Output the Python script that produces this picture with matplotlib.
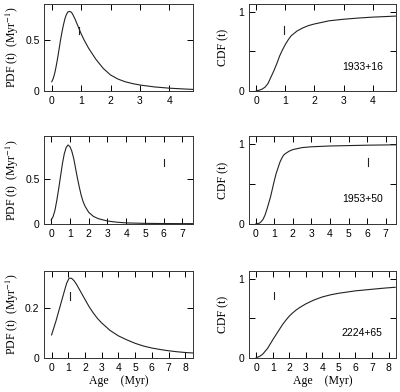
import matplotlib
matplotlib.use("Agg")
import matplotlib.pyplot as plt

# ---- data ----
names = ["1933+16", "1953+50", "2224+65"]

pdf1_t = [0, 0.05, 0.1, 0.15, 0.2, 0.25, 0.3, 0.35, 0.4, 0.45, 0.5, 0.55, 0.6, 0.65, 0.7, 0.8, 0.9,
          1.0, 1.1, 1.25, 1.5, 1.75, 2.0, 2.25, 2.5, 2.75, 3.0, 3.5, 4.0, 4.5, 4.8]
pdf1_v = [0.088, 0.12, 0.17, 0.24, 0.32, 0.41, 0.50, 0.58, 0.65, 0.71, 0.75, 0.775, 0.78, 0.775, 0.76,
          0.70, 0.63, 0.56, 0.50, 0.42, 0.31, 0.22, 0.155, 0.115, 0.088, 0.07, 0.056, 0.037, 0.025,
          0.017, 0.013]
cdf1_t = [0, 0.1, 0.2, 0.3, 0.4, 0.5, 0.6, 0.7, 0.8, 0.9, 1.0, 1.1, 1.2, 1.4, 1.6, 1.8, 2.0, 2.5, 3.0,
          3.5, 4.0, 4.5, 4.78]
cdf1_v = [0, 0.006, 0.02, 0.045, 0.09, 0.17, 0.25, 0.34, 0.44, 0.52, 0.59, 0.65, 0.70, 0.76, 0.80,
          0.83, 0.85, 0.89, 0.91, 0.925, 0.937, 0.945, 0.95]

pdf2_t = [0, 0.1, 0.2, 0.3, 0.4, 0.5, 0.6, 0.7, 0.8, 0.9, 1.0, 1.1, 1.2, 1.3, 1.4, 1.5, 1.6, 1.7, 1.8,
          2.0, 2.25, 2.5, 3.0, 3.5, 4.0, 5.0, 6.0, 7.0, 7.55]
pdf2_v = [0.044, 0.08, 0.15, 0.26, 0.39, 0.53, 0.67, 0.78, 0.85, 0.878, 0.86, 0.81, 0.73, 0.62, 0.51,
          0.41, 0.32, 0.25, 0.20, 0.13, 0.085, 0.06, 0.033, 0.02, 0.012, 0.007, 0.005, 0.004, 0.004]
cdf2_t = [0, 0.2, 0.3, 0.4, 0.5, 0.6, 0.7, 0.8, 0.9, 1.0, 1.1, 1.2, 1.3, 1.4, 1.5, 1.6, 1.8, 2.0, 2.5,
          3.0, 4.0, 5.0, 6.0, 7.0, 7.55]
cdf2_v = [0, 0.01, 0.03, 0.06, 0.11, 0.18, 0.26, 0.34, 0.44, 0.54, 0.63, 0.70, 0.77, 0.82, 0.86,
          0.88, 0.91, 0.93, 0.955, 0.965, 0.975, 0.98, 0.985, 0.988, 0.99]

pdf3_t = [0, 0.25, 0.5, 0.75, 0.9, 1.05, 1.2, 1.35, 1.5, 1.75, 2.0, 2.25, 2.5, 2.75, 3.0, 3.5, 4.0,
          4.5, 5.0, 5.5, 6.0, 6.5, 7.0, 7.5, 8.0, 8.45]
pdf3_v = [0.092, 0.145, 0.205, 0.265, 0.30, 0.321, 0.32, 0.31, 0.295, 0.265, 0.235, 0.205, 0.18,
          0.158, 0.14, 0.11, 0.088, 0.072, 0.058, 0.047, 0.039, 0.033, 0.028, 0.024, 0.021, 0.019]
cdf3_t = [0, 0.2, 0.4, 0.7, 1.0, 1.2, 1.4, 1.6, 1.8, 2.0, 2.2, 2.4, 2.6, 3.0, 3.5, 4.0, 4.5, 5.0,
          5.5, 6.0, 6.5, 7.0, 7.5, 8.0, 8.4]
cdf3_v = [0, 0.015, 0.045, 0.12, 0.225, 0.29, 0.355, 0.42, 0.475, 0.525, 0.565, 0.60, 0.63, 0.68,
          0.73, 0.768, 0.795, 0.815, 0.83, 0.845, 0.855, 0.865, 0.875, 0.884, 0.89]

# small vertical marks (age, low, high)
pdf_mark = [(0.94, 0.56, 0.63), (6.0, 0.64, 0.72), (1.1, 0.233, 0.265)]
cdf_mark = [(0.95, 0.72, 0.83), (6.03, 0.73, 0.83), (1.08, 0.736, 0.834)]

xlims = [(-0.25, 4.8), (-0.36, 7.55), (-0.43, 8.45)]
xticks = [range(0, 5), range(0, 8), range(0, 9)]
pdf_ylim = [0.85, 0.978, 0.351]
pdf_yticks = [[0, 0.5], [0, 0.5], [0, 0.2]]
pdf_ylabels = [["0", "0.5"], ["0", "0.5"], ["0", "0.2"]]

pdfs = [(pdf1_t, pdf1_v), (pdf2_t, pdf2_v), (pdf3_t, pdf3_v)]
cdfs = [(cdf1_t, cdf1_v), (cdf2_t, cdf2_v), (cdf3_t, cdf3_v)]

plt.rcParams['font.family'] = ['Liberation Sans', 'DejaVu Sans']
plt.rcParams['mathtext.fontset'] = 'stix'
plt.rcParams['axes.linewidth'] = 0.7

fig = plt.figure(figsize=(4.0, 3.92), dpi=100)

lab = dict(family=['Liberation Serif', 'DejaVu Serif'], fontsize=8.5)
col = '#222222'

# axes rows in figure fractions (bottom, height)
rows = [(0.7686, 0.2204), (0.4286, 0.2245), (0.0875, 0.222)]

for i in range(3):
    b, h = rows[i]
    axp = fig.add_axes([0.111, b, 0.371, h])
    axc = fig.add_axes([0.6225, b, 0.3675, h])

    axp.plot(pdfs[i][0], pdfs[i][1], color=col, lw=0.8)
    t, lo, hi = pdf_mark[i]
    axp.plot([t, t], [lo, hi], color=col, lw=0.8)
    axp.set_ylim(0, pdf_ylim[i])
    axp.set_yticks(pdf_yticks[i])
    axp.set_yticklabels(pdf_ylabels[i])
    axp.set_ylabel(r'PDF (t)  (Myr$^{-1}$)', **lab)
    axp.yaxis.set_label_coords(-0.16, 0.5)

    axc.plot(cdfs[i][0], cdfs[i][1], color=col, lw=0.8)
    t, lo, hi = cdf_mark[i]
    axc.plot([t, t], [lo, hi], color=col, lw=0.8)
    axc.set_ylim(0, 1.1)
    axc.set_yticks([0, 0.5, 1])
    axc.set_yticklabels(["0", "", "1"])
    axc.set_ylabel('CDF (t)', **lab)
    axc.yaxis.set_label_coords(-0.135, 0.5)
    axc.text(0.77, 0.28, names[i], transform=axc.transAxes, ha='center', va='center',
             fontsize=7.5)

    for ax in (axp, axc):
        ax.set_xlim(*xlims[i])
        ax.set_xticks(list(xticks[i]))
        ax.tick_params(direction='in', top=True, right=True, length=4.5, width=0.7,
                       labelsize=7.5, pad=3.5)
        for sp in ax.spines.values():
            sp.set_color('#333333')
        if i == 2:
            ax.set_xlabel('Age    (Myr)', labelpad=2, **lab)

fig.savefig("out.png", dpi=100)
